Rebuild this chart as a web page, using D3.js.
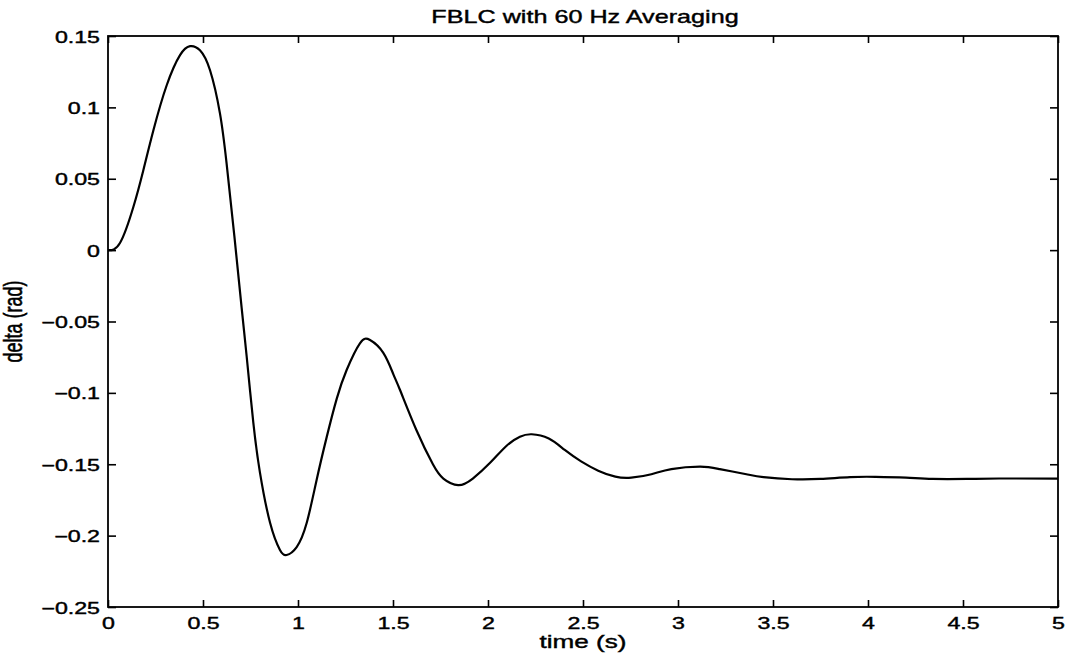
<!DOCTYPE html>
<html>
<head>
<meta charset="utf-8">
<script src="https://cdn.jsdelivr.net/npm/d3@7/dist/d3.min.js"></script>
<style>
  html, body { margin: 0; padding: 0; background: #fff; }
  svg { display: block; }
  text { font-family: "Liberation Sans", Arial, Helvetica, sans-serif; fill: #000; }
</style>
</head>
<body>
<svg id="chart" width="1069" height="660"></svg>
<script>
// ---- data ----
const timeS = [0, 0.063, 0.133, 0.186, 0.239, 0.309, 0.379, 0.432, 0.484, 0.537, 0.589, 0.624, 0.665,
  0.703, 0.730, 0.765, 0.800, 0.853, 0.905, 0.940, 0.993, 1.046, 1.098, 1.151, 1.204, 1.256, 1.326,
  1.379, 1.449, 1.502, 1.537, 1.623, 1.71, 1.765, 1.843, 1.92, 2.011, 2.098, 2.168, 2.23, 2.32, 2.404,
  2.49, 2.58, 2.67, 2.754, 2.86, 2.965, 3.116, 3.22, 3.36, 3.45, 3.6, 3.75, 3.905, 4.04, 4.2, 4.34,
  4.52, 4.69, 5.0];
const deltaRad = [0, 0.005, 0.030, 0.056, 0.084, 0.1155, 0.1366, 0.1429, 0.140, 0.126, 0.096, 0.061, 0.010,
  -0.040, -0.0747, -0.121, -0.156, -0.191, -0.210, -0.2136, -0.208, -0.191, -0.161, -0.131, -0.104, -0.084,
  -0.0653, -0.063, -0.072, -0.087, -0.098, -0.126, -0.150, -0.160, -0.1646, -0.160, -0.149, -0.137, -0.1307,
  -0.129, -0.132, -0.140, -0.148, -0.1545, -0.1587, -0.1594, -0.157, -0.1534, -0.1517, -0.1534, -0.157,
  -0.159, -0.1605, -0.1603, -0.159, -0.1588, -0.1594, -0.1603, -0.1603, -0.160, -0.160];
const xTicks = [0, 0.5, 1, 1.5, 2, 2.5, 3, 3.5, 4, 4.5, 5];
const yTicks = [0.15, 0.1, 0.05, 0, -0.05, -0.1, -0.15, -0.2, -0.25];
const titleText = "FBLC with 60 Hz Averaging";
const xLabel = "time (s)";
const yLabel = "delta (rad)";

// ---- layout ----
const L = 108, R = 1058, T = 36, B = 607;
const SX = 1.45; // horizontal glyph stretch seen in the reference

const svg = d3.select("#chart");
svg.append("rect").attr("width", 1069).attr("height", 660).attr("fill", "#fff");

const x = d3.scaleLinear().domain([0, 5]).range([L, R]);
const y = d3.scaleLinear().domain([-0.25, 0.15]).range([B, T]);

const fmt = d => {
  const s = String(+d.toFixed(2));
  return s.replace("-", "\u2212");
};

// axes
const gB = svg.append("g").attr("transform", `translate(0,${B})`)
  .call(d3.axisBottom(x).tickValues(xTicks).tickSizeInner(-7).tickSizeOuter(0).tickFormat(fmt));
const gL = svg.append("g").attr("transform", `translate(${L},0)`)
  .call(d3.axisLeft(y).tickValues(yTicks).tickSizeInner(-8).tickSizeOuter(0).tickFormat(fmt));
const gT = svg.append("g").attr("transform", `translate(0,${T})`)
  .call(d3.axisTop(x).tickValues(xTicks).tickSizeInner(-7).tickSizeOuter(0).tickFormat(""));
const gR = svg.append("g").attr("transform", `translate(${R},0)`)
  .call(d3.axisRight(y).tickValues(yTicks).tickSizeInner(-8).tickSizeOuter(0).tickFormat(""));

[gB, gL, gT, gR].forEach(g => {
  g.select(".domain").remove();
  g.selectAll(".tick line").attr("stroke", "#000").attr("stroke-width", 1.6);
  g.selectAll("text").attr("font-family", null);
});

gB.selectAll(".tick text")
  .attr("y", 0).attr("dy", null).attr("x", 0)
  .attr("font-size", 16)
  .attr("stroke", "#000").attr("stroke-width", 0.4)
  .attr("transform", `translate(0,22) scale(${SX},1)`);
gL.selectAll(".tick text")
  .attr("x", 0).attr("dy", null).attr("y", 0)
  .attr("font-size", 16)
  .attr("stroke", "#000").attr("stroke-width", 0.4)
  .attr("transform", `translate(-8,6) scale(${SX},1)`);

// frame
svg.append("rect")
  .attr("x", L).attr("y", T).attr("width", R - L).attr("height", B - T)
  .attr("fill", "none").attr("stroke", "#000").attr("stroke-width", 1.8);

// curve
const line = d3.line()
  .x((d, i) => x(timeS[i]))
  .y(d => y(d))
  .curve(d3.curveNatural);
svg.append("path")
  .datum(deltaRad)
  .attr("d", line)
  .attr("fill", "none")
  .attr("stroke", "#000")
  .attr("stroke-width", 2.2)
  .attr("stroke-linejoin", "round");

// title and labels
svg.append("text")
  .attr("text-anchor", "middle")
  .attr("font-size", 18)
  .attr("stroke", "#000").attr("stroke-width", 0.4)
  .attr("transform", `translate(585,23) scale(1.4,1)`)
  .text(titleText);
svg.append("text")
  .attr("text-anchor", "middle")
  .attr("font-size", 18)
  .attr("stroke", "#000").attr("stroke-width", 0.4)
  .attr("transform", `translate(${(L + R) / 2},648) scale(${SX},1)`)
  .text(xLabel);
svg.append("text")
  .attr("text-anchor", "middle")
  .attr("font-size", 18)
  .attr("stroke", "#000").attr("stroke-width", 0.4)
  .attr("transform", `translate(22,${(T + B) / 2}) scale(${SX},1) rotate(-90)`)
  .text(yLabel);
</script>
</body>
</html>
